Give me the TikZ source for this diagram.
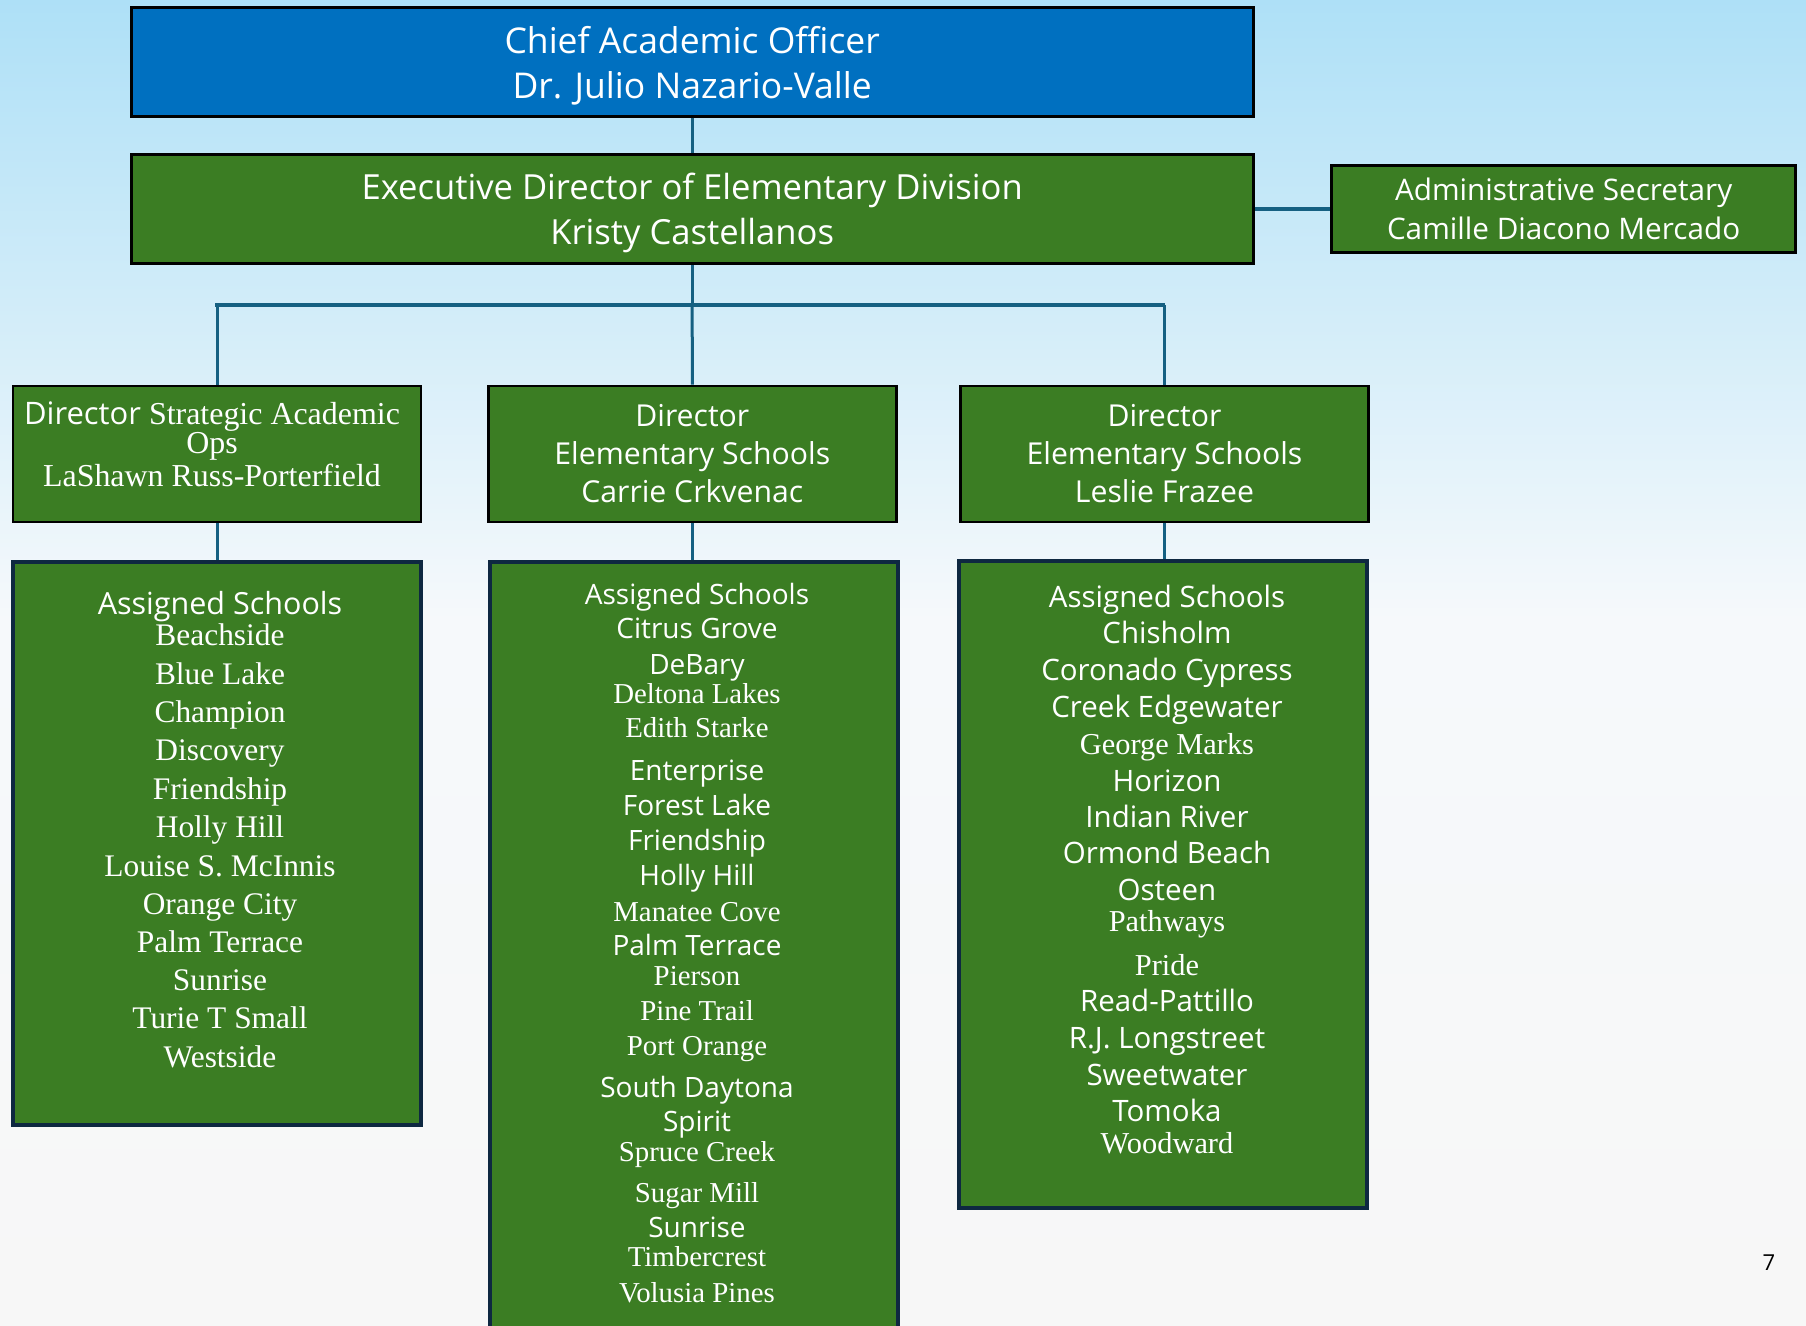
\documentclass[tikz,border=0pt]{standalone}
\usepackage{fontspec}
\setmainfont{Liberation Serif}
\newfontfamily\sansf{Open Sans}
\newfontfamily\serf[Scale=1.03]{Liberation Serif}
\definecolor{bgtop}{HTML}{AEE0F7}
\definecolor{bgmid}{HTML}{F6F9FB}
\definecolor{bgbot}{HTML}{F7F7F7}
\definecolor{cablue}{HTML}{0070C0}
\definecolor{boxgreen}{HTML}{3B7D23}
\definecolor{linkc}{HTML}{156082}
\definecolor{navy}{HTML}{0E2841}
\begin{document}
\begin{tikzpicture}[x=1pt,y=-1pt,
  topbox/.style={draw=black, line width=3pt, inner sep=0pt, align=center, text=white},
  dirbox/.style={draw=black, line width=2.5pt, fill=boxgreen, inner sep=0pt, minimum width=408pt, minimum height=136pt, align=center, text=white},
  schbox/.style={draw=navy, line width=4pt, fill=boxgreen, inner sep=0pt, minimum width=408pt},
  link/.style={draw=linkc, line width=3pt},
  txt/.style={text=white, inner sep=0pt, anchor=base}]
\clip (0,0) rectangle (1806,1325);
\shade[top color=bgtop, bottom color=bgmid] (0,0) rectangle (1806,620);
\shade[top color=bgmid, bottom color=bgbot] (0,620) rectangle (1806,1325);

% top boxes
\node[topbox, fill=cablue, minimum width=1122pt, minimum height=109pt] (cao) at (692.2,61.6) {};
\node[txt, anchor=center, align=center, font=\sansf\fontsize{35.5}{45}\selectfont] (caot) at (692.2,66)
  {Chief Academic Officer\\Dr. Julio Nazario-Valle};
\node[topbox, fill=boxgreen, minimum width=1122pt, minimum height=109pt] (exec) at (692.2,209) {};
\node[txt, anchor=center, align=center, font=\sansf\fontsize{34.6}{45}\selectfont] (exect) at (692.2,212.5)
  {Executive Director of Elementary Division\\Kristy Castellanos};
\node[topbox, fill=boxgreen, minimum width=464pt, minimum height=87pt,
  font=\sansf\fontsize{29.7}{39}\selectfont] (admin) at (1563.6,208.5)
  {Administrative Secretary\\Camille Diacono Mercado};

% directors
\node[dirbox] (dL) at (217.1,453.9) {};
\node[dirbox, font=\sansf\fontsize{30.2}{38}\selectfont] (dM) at (692.3,453.9)
  {Director\\Elementary Schools\\Carrie Crkvenac};
\node[dirbox, font=\sansf\fontsize{30.2}{38}\selectfont] (dR) at (1164.5,453.9)
  {Director\\Elementary Schools\\Leslie Frazee};
\node[txt, font=\serf\fontsize{31}{31}\selectfont] (dL1) at (212,424.5)
  {{\sansf Director} Strategic Academic};
\node[txt, font=\serf\fontsize{31}{31}\selectfont] (dL2) at (212,453) {Ops};
\node[txt, font=\serf\fontsize{31}{31}\selectfont] (dL3) at (212,486.7) {LaShawn Russ-Porterfield};

% school boxes
\node[schbox, minimum height=563pt] (sL) at (216.5,843.6) {};
\node[schbox, minimum height=783pt] (sM) at (694,953.5) {};
\node[schbox, minimum height=647pt] (sR) at (1163.3,884.6) {};

% connectors
\coordinate (bus) at (692.2,305);
\draw[link] (cao.south) -- (exec.north);
\draw[link, line width=4pt] (exec.east |- admin.west) -- (admin.west);
\draw[link] (exec.south) -- (bus);
\draw[link, line width=3.5pt] ([xshift=-2pt]dL.north |- bus) -- (dR.north |- bus);
\draw[link] (dL.north |- bus) -- (dL.north);
\draw[link] (bus) -- (dM.north);
\draw[link] (dR.north |- bus) -- (dR.north);
\draw[link] (dL.south) -- (dL.south |- sL.north);
\draw[link] (dM.south) -- (dM.south |- sM.north);
\draw[link] (dR.south) -- (dR.south |- sR.north);

% left list
\foreach \yy/\ff/\tt [count=\i] in {
  524/\sansf/Assigned Schools, 551/\serf/Beachside, 585/\serf/Blue Lake,
  618/\serf/Champion, 651/\serf/Discovery, 685/\serf/Friendship,
  718/\serf/Holly Hill, 752/\serf/Louise S. McInnis, 785/\serf/Orange City,
  818/\serf/Palm Terrace, 851/\serf/Sunrise, 884/\serf/Turie T Small,
  918/\serf/Westside}
  \node[txt, font=\fontsize{30.5}{31}\selectfont] (l\i) at (220,\yy*1.1518+10.5) {\ff\tt};

% middle list
\foreach \yy/\ff/\tt [count=\i] in {
  516/\sansf/Assigned Schools, 546/\sansf/Citrus Grove, 577/\sansf/DeBary,
  602/\serf/Deltona Lakes, 632/\serf/Edith Starke, 669/\sansf/Enterprise,
  699/\sansf/Forest Lake, 730/\sansf/Friendship, 760/\sansf/Holly Hill,
  791/\serf/Manatee Cove, 821/\sansf/Palm Terrace, 847/\serf/Pierson,
  877/\serf/Pine Trail, 908/\serf/Port Orange, 944/\sansf/South Daytona,
  974/\sansf/Spirit, 1000/\serf/Spruce Creek, 1035/\serf/Sugar Mill,
  1066/\sansf/Sunrise, 1091/\serf/Timbercrest, 1122/\serf/Volusia Pines}
  \node[txt, font=\fontsize{28}{29}\selectfont] (m\i) at (697,\yy*1.1518+10) {\ff\tt};

% right list
\foreach \yy/\ff/\tt [count=\i] in {
  518/\sansf/Assigned Schools, 550/\sansf/Chisholm, 582/\sansf/Coronado Cypress,
  614/\sansf/Creek Edgewater, 646/\serf/George Marks, 678/\sansf/Horizon,
  709/\sansf/Indian River, 741/\sansf/Ormond Beach, 773/\sansf/Osteen,
  800/\serf/Pathways, 838/\serf/Pride, 869/\sansf/Read-Pattillo,
  901/\sansf/R.J. Longstreet, 933/\sansf/Sweetwater, 965/\sansf/Tomoka,
  992/\serf/Woodward}
  \node[txt, font=\fontsize{29.5}{30}\selectfont] (r\i) at (1167,\yy*1.1518+10.5) {\ff\tt};

\node[inner sep=0pt, anchor=base, font=\sansf\fontsize{22}{22}\selectfont] (pg) at (1769,1270) {7};
\end{tikzpicture}
\end{document}
